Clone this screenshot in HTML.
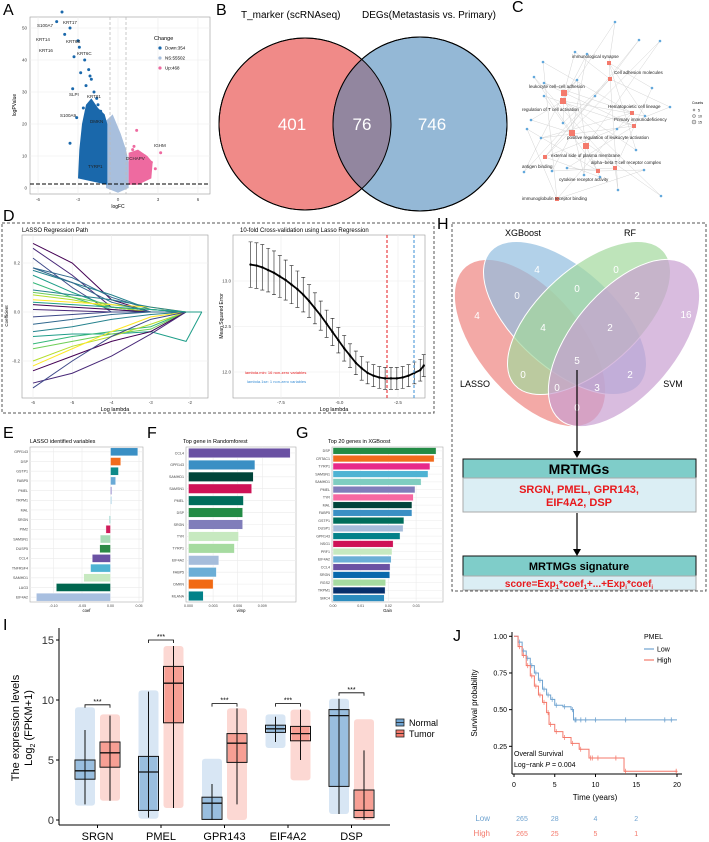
<!DOCTYPE html>
<html><head><meta charset="utf-8">
<style>
html,body{margin:0;padding:0;background:#fff;}
svg{display:block;font-family:"Liberation Sans",Arial,sans-serif;}
</style></head>
<body>
<svg id="fig" width="709" height="842" viewBox="0 0 709 842" xmlns="http://www.w3.org/2000/svg">
<g font-size="16" fill="#000">
<text x="3" y="15">A</text>
<text x="216" y="15">B</text>
<text x="512" y="12">C</text>
<text x="3" y="221">D</text>
<text x="437" y="229">H</text>
<text x="3" y="438">E</text>
<text x="147" y="438">F</text>
<text x="296" y="438">G</text>
<text x="3" y="630">I</text>
<text x="453" y="641">J</text>
</g>

<g>
<text x="241" y="18" font-size="10">T_marker (scRNAseq)</text>
<text x="362" y="18" font-size="10">DEGs(Metastasis vs. Primary)</text>
<circle cx="305" cy="124" r="86" fill="#f08a88" stroke="#000" stroke-width="1"/>
<circle cx="420" cy="124" r="87" fill="#94b8d6" stroke="#000" stroke-width="1"/>
<clipPath id="cpb"><circle cx="305" cy="124" r="86"/></clipPath>
<circle cx="420" cy="124" r="87" fill="#92869f" clip-path="url(#cpb)"/>
<circle cx="305" cy="124" r="86" fill="none" stroke="#000" stroke-width="1"/>
<circle cx="420" cy="124" r="87" fill="none" stroke="#000" stroke-width="1"/>
<text x="292" y="130" font-size="17" fill="#fff" text-anchor="middle">401</text>
<text x="362" y="130" font-size="17" fill="#fff" text-anchor="middle">76</text>
<text x="432" y="130" font-size="17" fill="#fff" text-anchor="middle">746</text>
</g>

<rect x="2" y="223" width="432" height="190" fill="none" stroke="#555" stroke-dasharray="3,2"/>
<rect x="452" y="223" width="254" height="368" fill="none" stroke="#555" stroke-dasharray="3,2"/>

<g id="gA"></g><g id="gC"></g><g id="gD1"></g><g id="gD2"></g><g id="gH"></g>
<g id="gE"></g><g id="gF"></g><g id="gG"></g><g id="gI"></g><g id="gJ"></g>
</svg>

<script>
const NS='http://www.w3.org/2000/svg';
function mk(tag,attrs,parent,txt){const e=document.createElementNS(NS,tag);for(const k in attrs)e.setAttribute(k,attrs[k]);if(txt!==undefined)e.textContent=txt;parent.appendChild(e);return e;}
const $=id=>document.getElementById(id);

/* ---------- data: panel A (volcano) ---------- */
const volcDownX=[-4.2,-4.6,-3.6,-4.0,-3.0,-2.9,-3.3,-2.5,-2.8,-2.2,-2.0,-2.4,-1.8,-1.6,-1.5,-2.6,-3.1,-1.3,-1.9,-2.3,-1.2,-1.1,-3.6,-2.7,-3.4,-2.1,-1.7];
const volcDownY=[55,52,50,48,46,44,41,40,36,37,34,32,30,28,26,25,22,24,21,19,18,16,14,8,31,35,12];
const volcUpX=[1.1,1.4,1.8,2.0,2.5,1.6,2.2,2.8,1.2,3.2];
const volcUpY=[12,18,9,10,8,6,7,6,13,11];
const volcLabels=["S100A7","KRT17","KRT14","KRT6B","KRT16","KRT6C","KRT81","SLPI","S100A9","DMKN","TYRP1","IGHM","DCHAPV"];
const volcLabelX=[37,63,36,66,39,77,87,69,60,90,88,154,126];
const volcLabelY=[27,24,41,43,52,55,98,96,117,123,168,147,160];
(function(){
 const g=$('gA');
 const X=v=>118+v*13.33, Y=v=>188-v*3.2;
 mk('rect',{x:30,y:17,width:180,height:177,fill:'#fff',stroke:'#999','stroke-width':0.6},g);
 [-6,-3,0,3,6].forEach(t=>{mk('line',{x1:X(t),x2:X(t),y1:17,y2:194,stroke:'#ebebeb','stroke-width':0.6},g);const tx=mk('text',{x:X(t),y:201,'font-size':4.5,'text-anchor':'middle',fill:'#444'},g,t);});
 [0,10,20,30,40,50].forEach(t=>{mk('line',{x1:30,x2:210,y1:Y(t),y2:Y(t),stroke:'#ebebeb','stroke-width':0.6},g);const tx=mk('text',{x:27,y:Y(t)+1.5,'font-size':4.5,'text-anchor':'end',fill:'#444'},g,t);});
 const ns=mk('polygon',{points:[[-0.9,0],[-0.9,21],[-0.4,23],[0.2,17],[0.6,12],[0.8,8],[0.8,0],[0,-1.5]].map(p=>X(p[0])+','+Y(p[1])).join(' '),fill:'#a8bfdd'},g);
 
 const dn=mk('polygon',{points:[[-0.8,1],[-3.0,3],[-2.9,12],[-2.7,20],[-2.4,26],[-2.0,28],[-1.5,25],[-1.0,23],[-0.8,20]].map(p=>X(p[0])+','+Y(p[1])).join(' '),fill:'#1a68ab'},g);
 
 const up=mk('polygon',{points:[[0.8,1],[0.8,11],[1.5,12],[2.2,10],[2.6,8],[2.5,3],[1.5,1]].map(p=>X(p[0])+','+Y(p[1])).join(' '),fill:'#ee6aa0'},g);
 
 volcDownX.forEach((v,i)=>{const c=mk('circle',{cx:X(v),cy:Y(volcDownY[i]),r:1.5,fill:'#1a68ab'},g);});
 volcUpX.forEach((v,i)=>{const c=mk('circle',{cx:X(v),cy:Y(volcUpY[i]),r:1.5,fill:'#ee6aa0'},g);});
 mk('line',{x1:110,x2:110,y1:17,y2:194,stroke:'#bbb','stroke-dasharray':'3,2','stroke-width':0.8},g);
 mk('line',{x1:126,x2:126,y1:17,y2:194,stroke:'#bbb','stroke-dasharray':'3,2','stroke-width':0.8},g);
 mk('line',{x1:30,x2:210,y1:184,y2:184,stroke:'#000','stroke-dasharray':'4,2','stroke-width':1},g);
 volcLabels.forEach((l,i)=>{const t=mk('text',{x:volcLabelX[i],y:volcLabelY[i],'font-size':4.5,fill:'#222'},g,l);});
 mk('text',{x:154,y:40,'font-size':5.5},g,'Change');
 [['Down:354','#1a68ab'],['NS:55502','#a8bfdd'],['Up:468','#ee6aa0']].forEach((d,i)=>{const c=mk('circle',{cx:160,cy:48+i*10,r:1.6,fill:d[1]},g);const t=mk('text',{x:165,y:49.5+i*10,'font-size':4.5},g,d[0]);});
 mk('text',{x:118,y:208,'font-size':5,'text-anchor':'middle'},g,'logFC');
 mk('text',{x:16,y:105,'font-size':5,'text-anchor':'middle',transform:'rotate(-90 16 105)'},g,'logPValue');
})();

/* ---------- data: panel C (network) ---------- */
const termNames=["immunological synapse","Cell adhesion molecules","leukocyte cell−cell adhesion","regulation of T cell activation","Hematopoietic cell lineage","Primary immunodeficiency","positive regulation of leukocyte activation","external side of plasma membrane","antigen binding","alpha−beta T cell receptor complex","cytokine receptor activity","immunoglobulin receptor binding"];
const termX=[609,610,564,563,632,634,572,586,545,615,598,557];
const termY=[63,79,93,101,113,126,133,146,157,168,171,199];
const termSize=[4,4,6,6,4,4,6,6,4,4,4,4];
const termLX=[572,614,529,522,608,614,567,551,522,591,559,522];
const termLY=[58,74,88,111,108,121,139,157,168,164,181,200];
const geneX=[615,639,575,587,543,544,534,577,660,652,544,527,645,595,563,531,617,541,552,584,600,618,567,644,636,670,524,661];
const geneY=[22,40,52,54,62,83,77,80,41,88,96,129,116,96,123,120,129,138,171,175,177,190,168,170,150,107,172,196];
(function(){
 const g=$('gC');
 geneX.forEach((x,i)=>{const a=i%termX.length,b=(i*5+3)%termX.length;
  [a,b].forEach(k=>{const l=mk('line',{x1:x,y1:geneY[i],x2:termX[k],y2:termY[k],stroke:'#d4d4d4','stroke-width':0.5},g);});});
 geneX.forEach((x,i)=>{const c=mk('circle',{cx:x,cy:geneY[i],r:1.3,fill:'#62a8dc'},g);});
 termX.forEach((x,i)=>{const s=termSize[i];const r=mk('rect',{x:x-s/2,y:termY[i]-s/2,width:s,height:s,fill:'#f47a6c'},g);
  const t=mk('text',{x:termLX[i],y:termLY[i],'font-size':4.5,fill:'#222'},g,termNames[i]);});
 mk('text',{x:692,y:104,'font-size':3.5},g,'Counts');
 [5,10,15].forEach((v,i)=>{const c=mk('circle',{cx:694,cy:110+i*6,r:1+i*0.5,fill:'#ddd',stroke:'#444','stroke-width':0.4},g);mk('text',{x:698,y:111.5+i*6,'font-size':3.5},g,v);});
})();

/* ---------- data: panel D1 (lasso paths) ---------- */
const pathLambda=[-6,-5,-4,-3,-2.1,-1.7];
const pathCoefs=[[0.28,0.2,0.05,0,0,0],[0.26,0.15,0.02,0,0,0],[0.22,0.1,0,0,0,0],[0.18,0.14,0.06,0.01,0,0],[0.17,0.12,0.07,0.01,0,0],[0.15,0.08,0.02,0,0,0],[0.12,0.06,0.01,0,0,0],[0.08,0.06,0.03,0.01,0,0],[0.07,0.05,0.02,0,0,0],[0.05,0.04,0.03,0.02,0,0],[0.03,0.02,0.01,0,0,0],[0.01,0.005,0,0,0,0],[-0.02,-0.01,0,0,0,0],[-0.05,-0.03,-0.01,0,0,0],[-0.08,-0.06,-0.03,-0.01,0,0],[-0.1,-0.09,-0.09,-0.08,-0.12,0],[-0.13,-0.1,-0.08,-0.06,0,0],[-0.15,-0.12,-0.09,-0.07,0,0],[-0.2,-0.14,-0.1,-0.05,0,0],[-0.22,-0.15,-0.08,-0.02,0,0],[-0.24,-0.18,-0.12,-0.08,0,0],[-0.29,-0.25,-0.18,-0.09,0,0],[-0.31,-0.2,-0.1,-0.03,0,0],[0.18,0.12,0.04,0,0,0],[0.09,0.07,0.05,0.02,0,0],[0.04,0.03,0.02,0.01,0,0]];
const pathColors=['#440154','#482878','#3e4989','#31688e','#26828e','#1f9e89','#35b779','#6ece58','#b5de2b','#fde725'];
(function(){
 const g=$('gD1');const X=v=>33+(v+6)*39.25, Y=v=>312-v*245;
 mk('text',{x:22,y:232,'font-size':6},g,'LASSO Regression Path');
 mk('rect',{x:22,y:235,width:186,height:163,fill:'#fff',stroke:'#999','stroke-width':0.6},g);
 [-6,-5,-4,-3,-2].forEach(t=>{mk('line',{x1:X(t),x2:X(t),y1:235,y2:398,stroke:'#ebebeb','stroke-width':0.6},g);const tx=mk('text',{x:X(t),y:404,'font-size':4.5,'text-anchor':'middle',fill:'#444'},g,t);});
 [0.2,0,-0.2].forEach(t=>{mk('line',{x1:22,x2:208,y1:Y(t),y2:Y(t),stroke:'#ebebeb','stroke-width':0.6},g);const tx=mk('text',{x:20,y:Y(t)+1.5,'font-size':4.5,'text-anchor':'end',fill:'#444'},g,t.toFixed(1));});
 pathCoefs.forEach((arr,i)=>{const p=mk('polyline',{points:arr.map((v,j)=>X(pathLambda[j])+','+Y(v)).join(' '),fill:'none',stroke:pathColors[i%pathColors.length],'stroke-width':1},g);});
 mk('text',{x:115,y:411,'font-size':5.5,'text-anchor':'middle'},g,'Log lambda');
 mk('text',{x:8,y:316,'font-size':4.5,'text-anchor':'middle',transform:'rotate(-90 8 316)'},g,'Coefficient');
})();

/* ---------- data: panel D2 (cv) ---------- */
const cvLambda=[-8.8,-8.55,-8.3,-8.05,-7.8,-7.55,-7.3,-7.05,-6.8,-6.55,-6.3,-6.05,-5.8,-5.55,-5.3,-5.05,-4.8,-4.55,-4.3,-4.05,-3.8,-3.55,-3.3,-3.05,-2.8,-2.55,-2.3,-2.05,-1.8,-1.55,-1.4];
const cvMse=[13.18,13.17,13.15,13.12,13.09,13.05,13.01,12.96,12.91,12.85,12.78,12.7,12.62,12.53,12.44,12.35,12.26,12.18,12.1,12.04,11.99,11.96,11.94,11.93,11.93,11.93,11.94,11.96,11.99,12.02,12.07];
const cvSe=[0.25,0.25,0.25,0.24,0.24,0.23,0.22,0.21,0.2,0.19,0.18,0.17,0.16,0.15,0.15,0.14,0.14,0.13,0.13,0.13,0.12,0.12,0.12,0.12,0.12,0.12,0.12,0.12,0.12,0.12,0.12];
(function(){
 const g=$('gD2');const X=v=>281+(v+7.5)*23.4, Y=v=>281-(v-13)*91;
 mk('text',{x:240,y:232,'font-size':6},g,'10-fold Cross-validation using Lasso Regression');
 mk('rect',{x:233,y:235,width:192,height:163,fill:'#fff',stroke:'#999','stroke-width':0.6},g);
 [-7.5,-5,-2.5].forEach(t=>{mk('line',{x1:X(t),x2:X(t),y1:235,y2:398,stroke:'#ebebeb','stroke-width':0.6},g);const tx=mk('text',{x:X(t),y:404,'font-size':4.5,'text-anchor':'middle',fill:'#444'},g,t.toFixed(1));});
 [13,12.5,12].forEach(t=>{mk('line',{x1:233,x2:425,y1:Y(t),y2:Y(t),stroke:'#ebebeb','stroke-width':0.6},g);const tx=mk('text',{x:231,y:Y(t)+1.5,'font-size':4.5,'text-anchor':'end',fill:'#444'},g,t.toFixed(1));});
 cvLambda.forEach((l,i)=>{const x=X(l);
  const e=mk('path',{d:`M${x},${Y(cvMse[i]-cvSe[i])}V${Y(cvMse[i]+cvSe[i])}M${x-2},${Y(cvMse[i]-cvSe[i])}h4M${x-2},${Y(cvMse[i]+cvSe[i])}h4`,stroke:'#222','stroke-width':0.6,fill:'none'},g);});
 const ln=mk('polyline',{points:cvLambda.map((l,i)=>X(l)+','+Y(cvMse[i])).join(' '),fill:'none',stroke:'#000','stroke-width':1.8},g);
 
 cvLambda.forEach((l,i)=>{const c=mk('circle',{cx:X(l),cy:Y(cvMse[i]),r:1.2,fill:'#000'},g);});
 mk('line',{x1:387,x2:387,y1:235,y2:398,stroke:'#e41a1c','stroke-dasharray':'3,2','stroke-width':1},g);
 mk('line',{x1:414,x2:414,y1:235,y2:398,stroke:'#3b8fd6','stroke-dasharray':'3,2','stroke-width':1},g);
 mk('text',{x:245,y:374,'font-size':4,fill:'#e41a1c'},g,'lambda.min: 16 non-zero variables');
 mk('text',{x:247,y:383,'font-size':4,fill:'#3b8fd6'},g,'lambda.1se: 1 non-zero variables');
 mk('text',{x:334,y:411,'font-size':5.5,'text-anchor':'middle'},g,'Log lambda');
 mk('text',{x:223,y:316,'font-size':5,'text-anchor':'middle',transform:'rotate(-90 223 316)'},g,'Mean Squared Error');
})();

/* ---------- panel H ---------- */
const vennLabels=["4","4","0","16","0","0","2","4","2","5","0","2","0","3","0"];
const vennLX=[477,537,616,686,517,577,637,543,610,577,523,630,557,597,577];
const vennLY=[319,273,273,318,299,292,299,331,331,364,378,378,391,391,411];
(function(){
 const g=$('gH');
 const ells=[[530,343,100,52,50,'#ee8480'],[565,318,100,50,42,'#91bde0'],[589,318,100,50,-42,'#a3d89c'],[624,343,100,52,-50,'#c99fd1']];
 const names=['venn-lasso','venn-xgboost','venn-rf','venn-svm'];
 ells.forEach((e,i)=>{const el=mk('ellipse',{cx:e[0],cy:e[1],rx:e[2],ry:e[3],transform:`rotate(${e[4]} ${e[0]} ${e[1]})`,fill:e[5],'fill-opacity':0.7,stroke:'#fff','stroke-width':1},g);});
 vennLabels.forEach((l,i)=>{const t=mk('text',{x:vennLX[i],y:vennLY[i],'font-size':10,fill:'#fff','text-anchor':'middle'},g,l);});
 mk('text',{x:523,y:236,'font-size':9,'text-anchor':'middle'},g,'XGBoost');
 mk('text',{x:630,y:236,'font-size':9,'text-anchor':'middle'},g,'RF');
 mk('text',{x:475,y:387,'font-size':9,'text-anchor':'middle'},g,'LASSO');
 mk('text',{x:673,y:387,'font-size':9,'text-anchor':'middle'},g,'SVM');
 mk('line',{x1:577,y1:370,x2:577,y2:452,stroke:'#000','stroke-width':1.2},g);
 mk('polygon',{points:'573,451 581,451 577,458',fill:'#000'},g);
 let r=mk('rect',{x:463,y:459,width:233,height:19,fill:'#7fcdc9',stroke:'#111','stroke-width':1},g);
 mk('text',{x:579,y:474,'font-size':14,'font-weight':'bold','text-anchor':'middle'},g,'MRTMGs');
 r=mk('rect',{x:463,y:478,width:233,height:34,fill:'#dbeef4',stroke:'#aaa','stroke-width':1},g);
 mk('text',{x:579,y:493,'font-size':11,'font-weight':'bold',fill:'#e8191c','text-anchor':'middle'},g,'SRGN, PMEL, GPR143,');
 mk('text',{x:579,y:506,'font-size':11,'font-weight':'bold',fill:'#e8191c','text-anchor':'middle'},g,'EIF4A2, DSP');
 mk('line',{x1:577,y1:513,x2:577,y2:549,stroke:'#000','stroke-width':1.2},g);
 mk('polygon',{points:'573,549 581,549 577,556',fill:'#000'},g);
 r=mk('rect',{x:463,y:556,width:233,height:20,fill:'#7fcdc9',stroke:'#111','stroke-width':1},g);
 mk('text',{x:579,y:570,'font-size':11,'font-weight':'bold','text-anchor':'middle'},g,'MRTMGs signature');
 r=mk('rect',{x:463,y:576,width:233,height:14,fill:'#dbeef4',stroke:'#aaa','stroke-width':1},g);
 const t=mk('text',{x:579,y:587,'font-size':10,'font-weight':'bold',fill:'#e8191c','text-anchor':'middle'},g);
 t.innerHTML='score=Exp<tspan font-size="6" dy="2">1</tspan><tspan dy="-2">*coef</tspan><tspan font-size="6" dy="2">1</tspan><tspan dy="-2">+...+Exp</tspan><tspan font-size="6" dy="2">i</tspan><tspan dy="-2">*coef</tspan><tspan font-size="6" dy="2">i</tspan>';
})();

/* ---------- bar charts E F G ---------- */
const lassoGenes=["GPR143","DSP","GSTP1","FABP5","PMEL","TRPM1","MAL","SRGN","PIM2","SAMSN1","DUSP5","CCL4","TNFRSF4","SAMHD1","LAG3","EIF4A2"];
const lassoCoef=[0.048,0.018,0.014,0.009,0.002,0.002,0.0,-0.002,-0.008,-0.018,-0.019,-0.032,-0.035,-0.047,-0.095,-0.13];
const lassoColors=['#3a8fc4','#f26b1d','#0e8a8a','#6aaad6','#7b6fbf','#9ecae1','#ccc','#7ec8c0','#d01c5b','#a6dbb5','#2b8a46','#6a51a3','#4eb3d3','#c7e9c0','#00664f','#a8bfe0'];
const lassoTicks=[-0.10,-0.05,0.00,0.05];
const rfGenes=["CCL4","GPR143","SAMHD1","SAMSN1","PMEL","DSP","SRGN","TYR","TYRP1","EIF4A2","FABP5","DMKN","MLANA"];
const rfVimp=[0.0124,0.0081,0.0079,0.0077,0.0067,0.0066,0.0066,0.0061,0.0056,0.0037,0.0034,0.003,0.0018];
const rfColors=['#6a51a3','#3a8fc4','#00443a','#ce1256','#006d5b','#238b45','#807dba','#c7e9c0','#a6dba0','#a6bddb','#6baed6','#f16913','#028189'];
const rfTicks=[0,0.003,0.006,0.009];
const xgbGenes=["DSP","CRTAC1","TYRP1","SAMSN1","SAMHD1","PMEL","TYR","MAL","FABP5","GSTP1","DUSP1","GPR143","NSG1","PRF1","EIF4A2","CCL4","SRGN","RGS2","TRPM1","SMC4"];
const xgbGain=[0.0372,0.0365,0.035,0.0343,0.0318,0.0296,0.029,0.0285,0.0285,0.0256,0.0253,0.0242,0.0217,0.0213,0.021,0.0206,0.0205,0.019,0.0188,0.0185];
const xgbColors=['#238b45','#f26b1d','#e7298a','#4eb3d3','#7fcdc0','#807dba','#f768a1','#00443a','#3a8fc4','#006d5b','#a6bddb','#028189','#ce1256','#c7e9c0','#6baed6','#6a51a3','#0868ac','#a6dba0','#08306b','#2b8cbe'];
const xgbTicks=[0,0.01,0.02,0.03];
function barChart(g,o){
 const {x0,x1,y0,y1,zeroX,scale,genes,vals,colors,ticks,title,titleX,xlab,bh,tickFmt}=o;
 mk('text',{x:titleX,y:443,'font-size':5.5},g,title);
 mk('rect',{x:x0,y:y0,width:x1-x0,height:y1-y0,fill:'#fff',stroke:'#aaa','stroke-width':0.6},g);
 const n=genes.length, step=(y1-y0)/n;
 ticks.forEach(t=>{const x=zeroX+t*scale;mk('line',{x1:x,x2:x,y1:y0,y2:y1,stroke:'#ebebeb','stroke-width':0.6},g);const tx=mk('text',{x:x,y:y1+5,'font-size':3.6,'text-anchor':'middle',fill:'#444'},g,tickFmt(t));});
 genes.forEach((gn,i)=>{const cy=y0+step*(i+0.5);
  mk('line',{x1:x0,x2:x1,y1:cy,y2:cy,stroke:'#ebebeb','stroke-width':0.6},g);
  const v=vals[i];const xa=zeroX+Math.min(0,v)*scale, w=Math.abs(v)*scale;
  const b=mk('rect',{x:xa,y:cy-bh/2,width:w,height:bh,fill:colors[i],stroke:'#fff','stroke-width':0.4},g);
  
  const t=mk('text',{x:x0-2,y:cy+1.3,'font-size':3.6,'text-anchor':'end',fill:'#444'},g,gn);});
 mk('text',{x:(x0+x1)/2,y:y1+10,'font-size':4.2,'text-anchor':'middle'},g,xlab);
}
barChart($('gE'),{x0:30,x1:143,y0:447,y1:602,zeroX:110.5,scale:570,genes:lassoGenes,vals:lassoCoef,colors:lassoColors,ticks:lassoTicks,title:'LASSO identified variables',titleX:30,xlab:'coef',bh:8,tickFmt:t=>t.toFixed(2)});
barChart($('gF'),{x0:186,x1:296,y0:447,y1:602,zeroX:188.5,scale:8200,genes:rfGenes,vals:rfVimp,colors:rfColors,ticks:rfTicks,title:'Top gene in Randomforest',titleX:183,xlab:'vimp',bh:9.5,tickFmt:t=>t.toFixed(3)});
barChart($('gG'),{x0:332,x1:443,y0:447,y1:602,zeroX:333,scale:2770,genes:xgbGenes,vals:xgbGain,colors:xgbColors,ticks:xgbTicks,title:'Top 20 genes in XGBoost',titleX:328,xlab:'Gain',bh:6.6,tickFmt:t=>t.toFixed(2)});

/* ---------- panel I (box plots) ---------- */
const boxGenes=["SRGN","PMEL","GPR143","EIF4A2","DSP"];
const nMed=[4.1,4.0,1.4,7.6,8.7], nQ1=[3.4,0.8,0.05,7.3,2.8], nQ3=[5.0,5.3,1.9,7.9,9.2], nLo=[1.3,0.2,0,6.5,0.5], nHi=[7.5,10.7,3.0,8.6,10.1];
const tMed=[5.6,11.4,6.4,7.2,0.8], tQ1=[4.4,8.1,4.8,6.6,0.2], tQ3=[6.5,12.8,7.2,7.8,2.5], tLo=[1.6,1.0,1.3,5.0,0], tHi=[8.7,14.5,9.3,9.2,5.8];
const nMin=[1.2,0.1,0,6.0,0.5], nMax=[9.4,10.8,5.1,8.8,10.1], tMin=[1.6,1.0,0,3.3,0], tMax=[8.8,14.5,9.3,9.2,8.4];
const sigY=[9.6,15.0,9.7,9.7,10.6];
const yTicksI=[0,5,10,15];
(function(){
 const g=$('gI');const Y=v=>820-v*12; const gx=i=>97.5+i*63.5;
 mk('line',{x1:59,x2:59,y1:628,y2:825,stroke:'#000','stroke-width':1},g);
 mk('line',{x1:59,x2:390,y1:825,y2:825,stroke:'#000','stroke-width':1},g);
 yTicksI.forEach(t=>{mk('line',{x1:56,x2:59,y1:Y(t),y2:Y(t),stroke:'#000'},g);const tx=mk('text',{x:54,y:Y(t)+4,'font-size':11,'text-anchor':'end',fill:'#333'},g,t);});
 boxGenes.forEach((gn,i)=>{const c=gx(i);
  mk('line',{x1:c,x2:c,y1:825,y2:828,stroke:'#000'},g);
  const tx=mk('text',{x:c,y:840,'font-size':11,'text-anchor':'middle'},g,gn);
  [[c-12.5,nMed,nQ1,nQ3,nLo,nHi,nMin,nMax,'#6fa3d0','#a9c8e6','normal'],[c+12.5,tMed,tQ1,tQ3,tLo,tHi,tMin,tMax,'#f4796b','#f8a89e','tumor']].forEach(s=>{
   const x=s[0];
   const cl=mk('rect',{x:x-10,y:Y(s[7][i]),width:20,height:Y(s[6][i])-Y(s[7][i]),fill:s[9],'fill-opacity':0.45,rx:3},g);
   const dense=mk('rect',{x:x-9,y:Y(s[3][i]),width:18,height:Y(s[2][i])-Y(s[3][i]),fill:s[8],'fill-opacity':0.6},g);
   mk('line',{x1:x,x2:x,y1:Y(s[5][i]),y2:Y(s[4][i]),stroke:'#111','stroke-width':1},g);
   const b=mk('rect',{x:x-10,y:Y(s[3][i]),width:20,height:Y(s[2][i])-Y(s[3][i]),fill:'none',stroke:'#111','stroke-width':1},g);
   mk('line',{x1:x-10,x2:x+10,y1:Y(s[1][i]),y2:Y(s[1][i]),stroke:'#111','stroke-width':1.3},g);
  });
  const sy=Y(sigY[i]);const br=mk('path',{d:`M${c-12.5},${sy+3}V${sy}H${c+12.5}V${sy+3}`,fill:'none',stroke:'#000','stroke-width':0.8},g);
  mk('text',{x:c,y:sy-1,'font-size':7,'text-anchor':'middle'},g,'***');
 });
 mk('text',{x:19,y:728,'font-size':11,'text-anchor':'middle',transform:'rotate(-90 19 728)'},g,'The expression levels');
 const yl=mk('text',{x:32,y:728,'font-size':11,'text-anchor':'middle',transform:'rotate(-90 32 728)'},g);
 yl.innerHTML='Log<tspan font-size="7" dy="3">2</tspan><tspan dy="-3"> (FPKM+1)</tspan>';
 [['Normal','#6fa3d0'],['Tumor','#f4796b']].forEach((d,i)=>{const y=723+i*11;const r=mk('rect',{x:396,y:y-4,width:8,height:7,fill:d[1],stroke:'#222','stroke-width':0.8},g);mk('line',{x1:396,x2:404,y1:y-0.5,y2:y-0.5,stroke:'#222','stroke-width':0.8},g);const t=mk('text',{x:409,y:y+3,'font-size':9},g,d[0]);});
})();

/* ---------- panel J (KM) ---------- */
const lowT=[0,0.5,1,1.5,2,2.5,3,3.5,4,4.5,5,6,7,7.3,20];
const lowS=[1,0.96,0.9,0.85,0.8,0.75,0.7,0.64,0.6,0.57,0.53,0.52,0.5,0.43,0.43];
const highT=[0,0.5,1,1.5,2,2.5,3,3.5,4,4.3,5,6,7,8,9.2,13.5,20];
const highS=[1,0.93,0.87,0.8,0.73,0.66,0.6,0.55,0.48,0.4,0.35,0.31,0.27,0.23,0.17,0.08,0.08];
const lowCens=[7.6,8.2,8.8,10,13.7,18.5,19.3];
const highCens=[9.6,10.3,12.5,19.9];
const riskTimes=[0,5,10,15];
const riskLow=[265,28,4,2], riskHigh=[265,25,5,1];
const kmXTicks=[0,5,10,15,20], kmYTicks=[0.25,0.5,0.75,1.0];
(function(){
 const g=$('gJ');const X=v=>514+v*8.15, Y=v=>783-v*146.7;
 mk('line',{x1:512,x2:512,y1:632,y2:774,stroke:'#000','stroke-width':1},g);
 mk('line',{x1:512,x2:682,y1:774,y2:774,stroke:'#000','stroke-width':1},g);
 kmXTicks.forEach(t=>{mk('line',{x1:X(t),x2:X(t),y1:774,y2:777,stroke:'#000'},g);const tx=mk('text',{x:X(t),y:787,'font-size':7,'text-anchor':'middle'},g,t);});
 kmYTicks.forEach(t=>{mk('line',{x1:509,x2:512,y1:Y(t),y2:Y(t),stroke:'#000'},g);const tx=mk('text',{x:507,y:Y(t)+2.5,'font-size':7,'text-anchor':'end'},g,t.toFixed(2));});
 function step(T,S){let d=`M${X(T[0])},${Y(S[0])}`;for(let i=1;i<T.length;i++){d+=`H${X(T[i])}V${Y(S[i])}`;}return d;}
 function survAt(T,S,t){let s=S[0];for(let i=0;i<T.length;i++){if(T[i]<=t)s=S[i];}return s;}
 [[lowT,lowS,lowCens,'#6fa3d0','low'],[highT,highS,highCens,'#f4796b','high']].forEach(c=>{
  const p=mk('path',{d:step(c[0],c[1]),fill:'none',stroke:c[3],'stroke-width':1},g);
  c[0].forEach((t,i)=>{if(i>0&&i<c[0].length-1){const y=Y(c[1][i]);mk('path',{d:`M${X(t)+1.5},${y-2.5}v5M${X(t)},${y}h3`,stroke:c[3],'stroke-width':0.7},g);}});
  c[2].forEach(t=>{const y=Y(survAt(c[0],c[1],t));const m=mk('path',{d:`M${X(t)},${y-2.5}v5M${X(t)-1.5},${y}h3`,stroke:c[3],'stroke-width':0.8},g);});
 });
 mk('text',{x:514,y:756,'font-size':7},g,'Overall Survival');
 mk('text',{x:514,y:767,'font-size':7},g).innerHTML='Log−rank <tspan font-style="italic">P</tspan> = 0.004';
 mk('text',{x:595,y:800,'font-size':8,'text-anchor':'middle'},g,'Time (years)');
 mk('text',{x:477,y:703,'font-size':8,'text-anchor':'middle',transform:'rotate(-90 477 703)'},g,'Survival probability');
 mk('text',{x:644,y:639,'font-size':7},g,'PMEL');
 [['Low','#6fa3d0'],['High','#f4796b']].forEach((d,i)=>{const y=649+i*11;mk('line',{x1:644,x2:654,y1:y,y2:y,stroke:d[1],'stroke-width':1.2},g);const t=mk('text',{x:657,y:y+2.5,'font-size':7},g,d[0]);});
 mk('text',{x:490,y:821,'font-size':8,fill:'#6fa3d0','text-anchor':'end'},g,'Low');
 mk('text',{x:490,y:836,'font-size':8,fill:'#f4796b','text-anchor':'end'},g,'High');
 riskTimes.forEach((t,i)=>{const x=X(t)+(i===0?8:0);
  const a=mk('text',{x:x,y:821,'font-size':7,fill:'#6fa3d0','text-anchor':'middle'},g,riskLow[i]);
  const b=mk('text',{x:x,y:836,'font-size':7,fill:'#f4796b','text-anchor':'middle'},g,riskHigh[i]);});
})();
</script>
</body></html>
